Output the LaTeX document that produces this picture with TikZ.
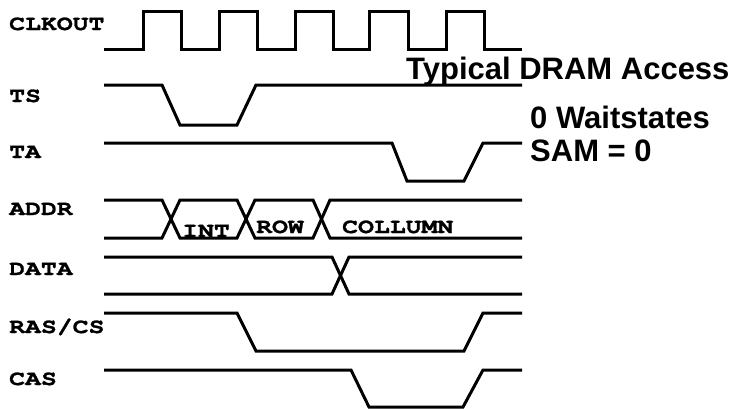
\documentclass[tikz,border=0pt]{standalone}
\usepackage{fontspec}
\setmainfont{Liberation Sans}
\newfontfamily\labfont{texgyrecursor}[Extension=.otf, UprightFont=*-regular, BoldFont=*-bold, FakeStretch=1.26, BoldFeatures={FakeBold=1.2}]
\tikzset{
  sig/.style={line width=3pt, line join=miter},
  lab/.style={anchor=base west, inner sep=0pt, font=\labfont\bfseries\fontsize{21}{21}\selectfont},
  big/.style={anchor=base west, inner sep=0pt, font=\bfseries\fontsize{31}{31}\selectfont}
}
\begin{document}
\begin{tikzpicture}[x=1pt,y=-1pt]
\useasboundingbox (0,0) rectangle (734,410);
% labels
\node[lab] (lclk) at (9,30) {CLKOUT};
\node[lab] (lts) at (9,102) {TS};
\node[lab] (lta) at (9,158) {TA};
\node[lab] (laddr) at (9,215) {ADDR};
\node[lab] (ldata) at (9,275) {DATA};
\node[lab] (lras) at (9,333) {RAS/CS};
\node[lab] (lcas) at (9,385) {CAS};
% CLKOUT
\draw[sig] (104,49) -- (143,49) -- (143,11) -- (181,11) -- (181,49) -- (219,49) -- (219,11) -- (257,11) -- (257,49) -- (295,49) -- (295,11) -- (333,11) -- (333,49) -- (369,49) -- (369,11) -- (408,11) -- (408,49) -- (446,49) -- (446,11) -- (484,11) -- (484,49) -- (522,49);
% TS
\draw[sig] (104,85) -- (162,85) -- (180,125) -- (237,125) -- (256,85) -- (522,85);
% TA
\draw[sig] (104,143) -- (392,143) -- (407,181) -- (464,181) -- (483,143) -- (522,143);
% ADDR
\draw[sig] (104,200) -- (162,200) -- (180,238) -- (237,238) -- (255,200) -- (313,200) -- (330,238) -- (522,238);
\draw[sig] (104,238) -- (162,238) -- (180,200) -- (237,200) -- (255,238) -- (313,238) -- (330,200) -- (522,200);
% DATA
\draw[sig] (104,257) -- (332,257) -- (349,294) -- (522,294);
\draw[sig] (104,294) -- (332,294) -- (349,257) -- (522,257);
% RAS/CS
\draw[sig] (104,313) -- (237,313) -- (256,351) -- (464,351) -- (483,313) -- (522,313);
% CAS
\draw[sig] (104,370) -- (351,370) -- (369,407) -- (463,407) -- (483,370) -- (522,370);
% bus labels
\node[lab] (tint) at (182,237) {INT};
\node[lab] (trow) at (256,233) {ROW};
\node[lab] (tcol) at (342,233) {COLLUMN};
% titles
\node[big] (title) at (406,79) {Typical DRAM Access};
\node[big] (ws) at (530,128) {0 Waitstates};
\node[big] (sam) at (530,161) {SAM = 0};
\end{tikzpicture}
\end{document}
